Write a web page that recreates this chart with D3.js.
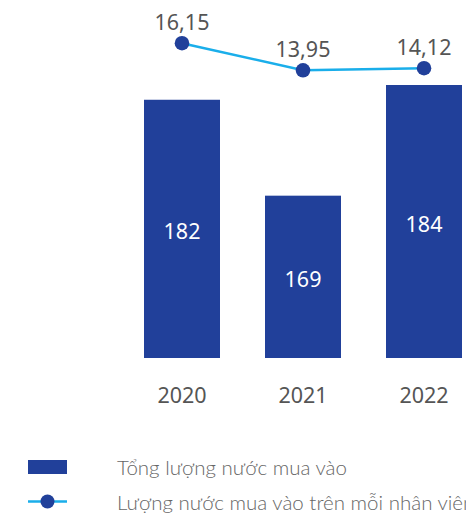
<!DOCTYPE html>
<html>
<head>
<meta charset="utf-8">
<script src="https://cdn.jsdelivr.net/npm/d3@7/dist/d3.min.js"></script>
<style>
  html, body { margin: 0; padding: 0; background: #ffffff; }
  svg { display: block; }
</style>
</head>
<body>
<svg id="chart" width="466" height="513"></svg>
<script>
// Water purchased: total per year (bars) and per employee (line)
const years = ["2020", "2021", "2022"];
const totalPurchased = [182, 169, 184];
const perEmployee = [16.15, 13.95, 14.12];
const legendLabels = ["Tổng lượng nước mua vào", "Lượng nước mua vào trên mỗi nhân viên"];

const barColor = "#21409a";
const lineColor = "#1aaeea";
const textColor = "#555555";
const numFont = "'Noto Sans', 'Open Sans', sans-serif";
const legendFont = "Lato, 'Noto Sans', sans-serif";

const svg = d3.select("#chart");

const x = d3.scaleBand()
  .domain(years)
  .range([144, 462])
  .paddingInner(0.372)
  .paddingOuter(0);

// bar axis does not start at zero
const yBar = d3.scaleLinear().domain([147, 184]).range([358, 85]);
const yLine = d3.scaleLinear().domain([13, 17]).range([82, 32.7]);

const fmt = v => d3.format(".2f")(v).replace(".", ",");

// bars
const bars = svg.append("g");
bars.selectAll("rect")
  .data(years)
  .join("rect")
  .attr("x", d => x(d))
  .attr("width", x.bandwidth())
  .attr("y", (d, i) => yBar(totalPurchased[i]))
  .attr("height", (d, i) => yBar.range()[0] - yBar(totalPurchased[i]))
  .attr("fill", barColor);

bars.selectAll("text")
  .data(years)
  .join("text")
  .attr("x", d => x(d) + x.bandwidth() / 2)
  .attr("y", (d, i) => (yBar(totalPurchased[i]) + yBar.range()[0]) / 2 + 2)
  .attr("text-anchor", "middle")
  .attr("dominant-baseline", "central")
  .attr("fill", "#ffffff")
  .style("font-family", numFont)
  .style("font-size", "21.5px")
  .text((d, i) => totalPurchased[i]);

// category labels
svg.append("g").selectAll("text")
  .data(years)
  .join("text")
  .attr("x", d => x(d) + x.bandwidth() / 2)
  .attr("y", 403)
  .attr("text-anchor", "middle")
  .attr("fill", textColor)
  .style("font-family", numFont)
  .style("font-size", "21.5px")
  .text(d => d);

// per-employee line
const pts = years.map((d, i) => [x(d) + x.bandwidth() / 2, yLine(perEmployee[i])]);
svg.append("path")
  .attr("d", d3.line()(pts))
  .attr("fill", "none")
  .attr("stroke", lineColor)
  .attr("stroke-width", 2.5);

svg.append("g").selectAll("circle")
  .data(pts)
  .join("circle")
  .attr("cx", d => d[0])
  .attr("cy", d => d[1])
  .attr("r", 7.3)
  .attr("fill", barColor);

svg.append("g").selectAll("text")
  .data(pts)
  .join("text")
  .attr("x", d => d[0])
  .attr("y", d => d[1] - 13)
  .attr("text-anchor", "middle")
  .attr("fill", textColor)
  .style("font-family", numFont)
  .style("font-size", "21.5px")
  .text((d, i) => fmt(perEmployee[i]));

// legend
const legend = svg.append("g");
legend.append("rect")
  .attr("x", 28).attr("y", 460)
  .attr("width", 39).attr("height", 14)
  .attr("fill", barColor);
legend.append("line")
  .attr("x1", 28).attr("x2", 67)
  .attr("y1", 501.5).attr("y2", 501.5)
  .attr("stroke", lineColor)
  .attr("stroke-width", 2.5);
legend.append("circle")
  .attr("cx", 47.5).attr("cy", 501.5).attr("r", 7)
  .attr("fill", barColor);
legend.selectAll("text")
  .data(legendLabels)
  .join("text")
  .attr("x", 117)
  .attr("y", (d, i) => 467 + i * 35)
  .attr("dominant-baseline", "central")
  .attr("fill", "#666666")
  .style("font-family", legendFont)
  .style("font-weight", 300)
  .style("font-size", "20.5px")
  .text(d => d);
</script>
</body>
</html>
